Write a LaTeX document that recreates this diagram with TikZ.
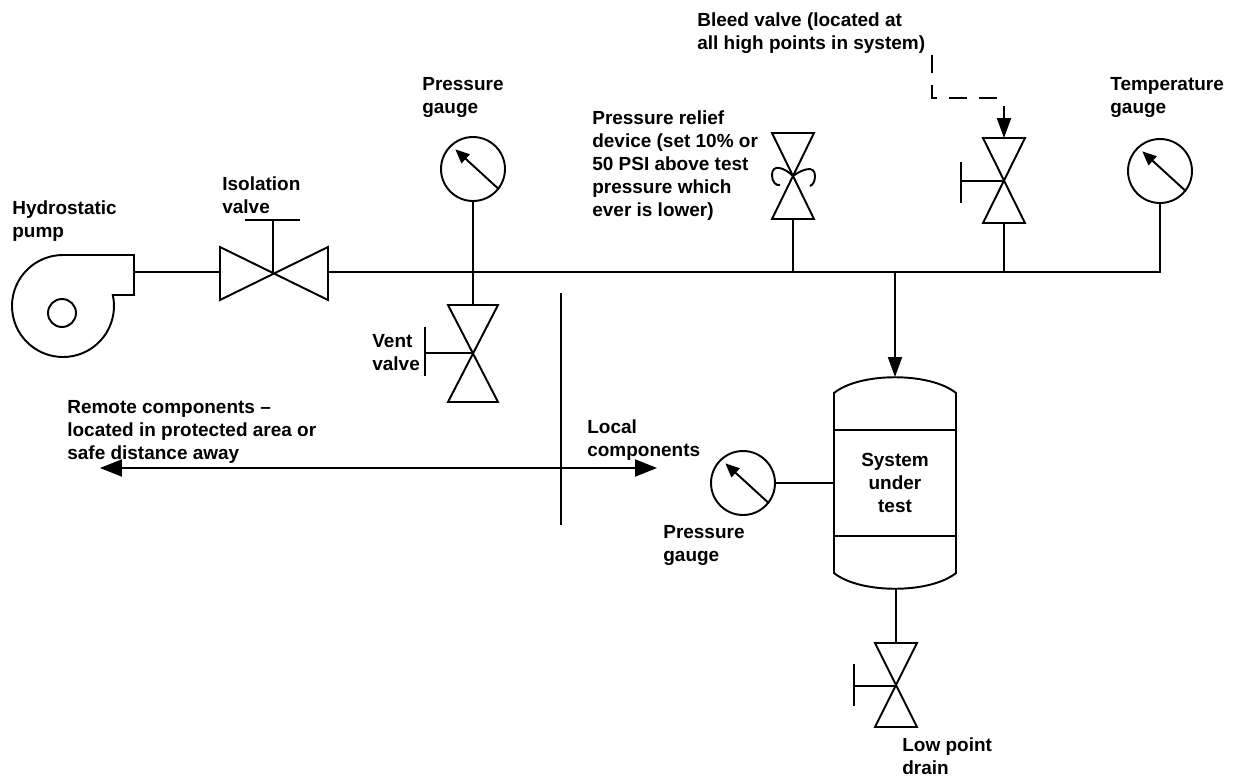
\documentclass[tikz,border=0pt]{standalone}
\usepackage{fontspec}
\setmainfont{Liberation Sans}
\usetikzlibrary{arrows.meta,calc}
\tikzset{
  pipe/.style={line width=1.1pt},
  lbl/.style={anchor=north west,inner sep=0pt,align=left,font=\fontsize{10.8pt}{13.1pt}\selectfont\bfseries},
  gauge/.style={draw,circle,line width=1.1pt,minimum size=1.28cm,inner sep=0pt},
  needle/.style={line width=1.1pt,-{Triangle[length=0.28cm,width=0.24cm]}},
  flow/.style={line width=1.1pt,-{Triangle[length=0.4cm,width=0.28cm]}},
  span/.style={line width=1.1pt,{Triangle[length=0.44cm,width=0.34cm]}-{Triangle[length=0.44cm,width=0.34cm]}}
}
\begin{document}
\begin{tikzpicture}[x=0.02cm,y=-0.02cm]
\useasboundingbox (0,0) rectangle (1235,778);
% pump
\draw[pipe] (63,255) arc[start angle=-90,end angle=-372.5,radius=51] -- (134,295) -- (134,255) -- cycle;
\draw[pipe] (62,313) circle[radius=14];
\coordinate (pumpout) at (134,272);
% isolation valve
\coordinate (iso) at (273,272);
\draw[pipe] (220,247) -- (328,300) -- (328,247) -- (220,300) -- cycle;
\draw[pipe] (iso) -- (273,220);
\draw[pipe] (245,220) -- (300,220);
\draw[pipe] (pumpout) -- (220,272);
% main line
\coordinate (tee) at (895,272);
\node[gauge] (pgtop) at (473,169) {};
\node[gauge] (tgauge) at (1160,171) {};
\draw[pipe] (328,272) -- (1160,272) -- (tgauge.south);
\draw[needle] (pgtop.-38) -- ($(pgtop.center)!0.8!(pgtop.132)$);
\draw[needle] (tgauge.-38) -- ($(tgauge.center)!0.8!(tgauge.132)$);
% vent valve
\draw[pipe] (pgtop.south) -- (473,305);
\draw[pipe] (448,305) -- (498,305) -- (448,402) -- (498,402) -- cycle;
\draw[pipe] (473,353) -- (425,353);
\draw[pipe] (425,327) -- (425,376);
% relief device
\draw[pipe] (772,133) -- (814,133) -- (772,219) -- (814,219) -- cycle;
\draw[pipe] (793,219) -- (793,272);
\draw[pipe] (793,176) .. controls (785,168) and (772,163) .. (772,175) .. controls (772,182) and (776,186) .. (780,185);
\draw[pipe] (793,176) .. controls (801,170) and (815,164) .. (815,176) .. controls (815,181) and (813,185) .. (810,186);
% bleed valve
\draw[pipe] (983,138) -- (1025,138) -- (983,223) -- (1025,223) -- cycle;
\draw[pipe] (1004,181) -- (961,181);
\draw[pipe] (961,162) -- (961,203);
\draw[pipe] (1004,223) -- (1004,272);
\draw[pipe,dash pattern=on 0.36cm off 0.24cm] (932,55) -- (932,98) -- (998,98);
\draw[flow] (1004,106) -- (1004,138);
% system under test
\node[draw,pipe,minimum width=2.44cm,minimum height=2.12cm,inner sep=0pt,outer sep=0pt,align=center,
  font=\fontsize{10.8pt}{13.1pt}\selectfont\bfseries] (sut) at (895,483) {System\\under\\test};
\draw[pipe] (sut.north west) -- (834,393) .. controls (860,372) and (930,372) .. (956,393) -- (sut.north east);
\draw[pipe] (sut.south west) -- (834,573) .. controls (860,594) and (930,594) .. (956,573) -- (sut.south east);
\draw[flow] (tee) -- (895,377);
\node[gauge] (pgside) at (743,483) {};
\draw[needle] (pgside.-38) -- ($(pgside.center)!0.8!(pgside.132)$);
\draw[pipe] (pgside.east) -- (sut.west);
% drain valve
\draw[pipe] (896,588) -- (896,643);
\draw[pipe] (875,643) -- (917,643) -- (875,727) -- (917,727) -- cycle;
\draw[pipe] (896,686) -- (854,686);
\draw[pipe] (854,664) -- (854,706);
% remote / local
\draw[pipe] (561,293) -- (561,525);
\draw[span] (100,468) -- (657,468);
% labels
\node[lbl] (pumplbl) at (12,200) {Hydrostatic\\pump};
\node[lbl] (isolbl) at (222,176) {Isolation\\valve};
\node[lbl] (pgtoplbl) at (422,77) {Pressure\\gauge};
\node[lbl] (relieflbl) at (592,110) {Pressure relief\\device (set 10\% or\\50 PSI above test\\pressure which\\ever is lower)};
\node[lbl] (bleedlbl) at (697,12) {Bleed valve (located at\\all high points in system)};
\node[lbl] (tgaugelbl) at (1110,77) {Temperature\\gauge};
\node[lbl] (ventlbl) at (372,334) {Vent\\valve};
\node[lbl] (remotelbl) at (67,400) {Remote components --\\located in protected area or\\safe distance away};
\node[lbl] (locallbl) at (587,419) {Local\\components};
\node[lbl] (pgsidelbl) at (663,525) {Pressure\\gauge};
\node[lbl] (drainlbl) at (902,737) {Low point\\drain};
\end{tikzpicture}
\end{document}
